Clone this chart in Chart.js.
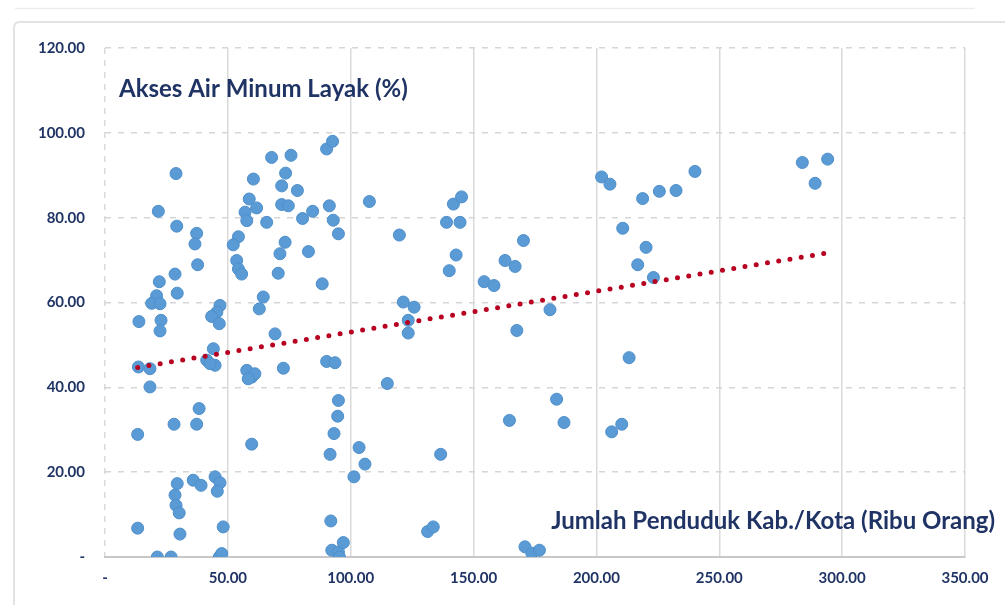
<!DOCTYPE html>
<html>
<head>
<meta charset="utf-8">
<script src="https://cdn.jsdelivr.net/npm/chart.js@4.4.1/dist/chart.umd.min.js"></script>
<style>
  html, body { margin: 0; padding: 0; background: #fff; }
  canvas { display: block; }
</style>
</head>
<body>
<canvas id="chart" width="1005" height="605"></canvas>
<script>
// Jumlah penduduk (ribu orang) per kab./kota
const populasi = [
  28.9, 21.7, 29.2, 37.3, 36.6, 37.7, 28.5, 22.1, 29.4, 21.0, 19.0, 22.4, 13.8, 22.8, 22.4,
  46.8, 45.5, 43.4, 46.5, 67.8, 75.7, 73.5, 71.9, 78.3, 60.4, 58.7, 61.7, 71.9, 74.6, 57.0,
  57.7, 65.8, 54.3, 52.2, 73.3, 71.2, 53.6, 54.3, 55.6, 70.5, 64.4, 62.8, 69.2, 90.2, 92.6,
  91.3, 80.4, 84.5, 92.9, 95.0, 107.6, 119.8, 82.8, 88.4, 141.8, 145.1, 139.0, 144.5, 142.9, 140.1,
  121.4, 125.8, 123.4, 123.4, 90.2, 93.6, 72.6, 114.9, 95.0, 94.7, 93.2, 91.6, 103.4, 105.8, 101.3,
  136.6, 91.9, 131.3, 133.6, 92.3, 95.0, 97.0, 95.4, 13.6, 18.3, 18.3, 41.4, 44.1, 44.8, 42.7,
  57.7, 59.7, 61.0, 58.3, 38.3, 37.3, 28.1, 13.3, 59.7, 29.4, 28.5, 28.9, 30.2, 35.9, 39.1,
  44.8, 46.8, 45.7, 13.3, 30.5, 48.1, 21.3, 26.9, 46.5, 47.5, 170.3, 162.8, 166.9, 154.3, 158.3,
  181.1, 167.6, 202.1, 205.5, 218.8, 225.6, 232.4, 210.7, 220.2, 216.8, 223.2, 213.3, 183.8, 186.8, 164.6,
  206.2, 210.3, 170.9, 173.7, 176.8, 240.1, 283.8, 294.1, 289.0
];
// Akses air minum layak (%)
const aksesAir = [
  90.4, 81.5, 78.0, 76.3, 73.8, 68.9, 66.7, 64.9, 62.2, 61.6, 59.8, 59.7, 55.5, 55.8, 53.3,
  59.3, 57.7, 56.7, 55.0, 94.2, 94.7, 90.5, 87.5, 86.4, 89.1, 84.4, 82.3, 83.1, 82.8, 81.3,
  79.3, 78.9, 75.5, 73.6, 74.2, 71.5, 69.9, 67.9, 66.7, 66.9, 61.3, 58.5, 52.6, 96.2, 98.0,
  82.8, 79.8, 81.5, 79.4, 76.2, 83.8, 75.9, 72.0, 64.4, 83.2, 84.9, 78.9, 78.9, 71.2, 67.5,
  60.1, 58.9, 55.8, 52.8, 46.1, 45.8, 44.5, 40.9, 36.9, 33.2, 29.1, 24.2, 25.8, 21.9, 18.9,
  24.2, 8.5, 6.0, 7.1, 1.6, 1.2, 3.4, 0.0, 44.8, 44.4, 40.1, 46.4, 49.1, 45.2, 45.6,
  44.0, 42.4, 43.2, 42.0, 35.0, 31.3, 31.3, 28.9, 26.6, 17.3, 14.6, 12.2, 10.4, 18.1, 16.9,
  18.9, 17.5, 15.5, 6.8, 5.4, 7.1, 0.0, 0.0, 0.0, 0.8, 74.6, 69.9, 68.5, 64.9, 64.0,
  58.3, 53.4, 89.6, 87.9, 84.5, 86.2, 86.4, 77.5, 73.0, 68.9, 65.9, 47.0, 37.2, 31.7, 32.2,
  29.5, 31.3, 2.4, 0.9, 1.6, 90.9, 93.0, 93.8, 88.1
];
// garis tren linear (ujung kiri dan kanan)
const trendX = [13.3, 294.1];
const trendY = [44.7, 71.7];

const judulY = 'Akses Air Minum Layak (%)';
const judulX = 'Jumlah Penduduk Kab./Kota (Ribu Orang)';

const navy = '#1F3364';
const tickFont = { family: 'Lato', size: 15, weight: 'bold' };

function fmt(v) {
  return v === 0 ? '-' : v.toFixed(2);
}

// kartu putih di belakang chart + judul sumbu di dalam area plot
const frame = {
  id: 'frame',
  beforeDraw(chart) {
    const c = chart.ctx;
    c.save();
    c.fillStyle = '#fff';
    c.fillRect(0, 0, chart.width, chart.height);
    c.strokeStyle = '#EDEDED';
    c.lineWidth = 1.5;
    c.beginPath();
    c.moveTo(15, 8.5);
    c.lineTo(975, 8.5);
    c.stroke();
    c.strokeStyle = '#E3E3E3';
    c.lineWidth = 2;
    c.beginPath();
    c.moveTo(14, 620);
    c.lineTo(14, 28);
    c.quadraticCurveTo(14, 22, 20, 22);
    c.lineTo(1010, 22);
    c.stroke();
    c.restore();
  },
  afterDraw(chart) {
    const c = chart.ctx;
    c.save();
    c.fillStyle = navy;
    c.textBaseline = 'middle';
    c.font = 'bold 24px Lato';
    c.textAlign = 'left';
    c.fillText(judulY, 119, 89);
    c.textAlign = 'right';
    c.fillText(judulX, 995, 521);
    c.restore();
  }
};

new Chart(document.getElementById('chart'), {
  data: {
    datasets: [
      {
        type: 'line',
        data: trendX.map((x, i) => ({ x: x, y: trendY[i] })),
        borderColor: '#B80020',
        borderWidth: 5,
        borderDash: [0, 11.4],
        borderCapStyle: 'round',
        pointRadius: 0,
        fill: false,
        order: 0
      },
      {
        type: 'scatter',
        data: populasi.map((x, i) => ({ x: x, y: aksesAir[i] })),
        backgroundColor: '#5B9BD5',
        borderColor: '#4E8FCB',
        borderWidth: 1,
        pointRadius: 6,
        order: 1
      }
    ]
  },
  options: {
    responsive: false,
    animation: false,
    layout: { padding: { top: 48, right: 40, bottom: 0, left: 0 } },
    plugins: { legend: { display: false }, tooltip: { enabled: false } },
    scales: {
      x: {
        type: 'linear',
        min: 0,
        max: 350,
        afterFit(s) { s.height = 48; },
        ticks: {
          stepSize: 50,
          padding: 12,
          color: navy,
          font: tickFont,
          callback: fmt
        },
        grid: {
          color: '#DADADA',
          lineWidth: 1.5,
          drawTicks: false
        },
        border: {
          display: true,
          color: '#C8C8C8',
          width: 2,
          dash: ctx => (ctx.index === 0 ? [6, 6] : [])
        }
      },
      y: {
        type: 'linear',
        min: 0,
        max: 120,
        afterFit(s) { s.width = 105; },
        ticks: {
          stepSize: 20,
          padding: 20,
          color: navy,
          font: tickFont,
          callback: fmt
        },
        grid: {
          color: '#D6D6D6',
          lineWidth: 1.5,
          drawTicks: false
        },
        border: {
          display: false,
          dash: [6, 7]
        }
      }
    }
  },
  plugins: [frame]
});
</script>
</body>
</html>
